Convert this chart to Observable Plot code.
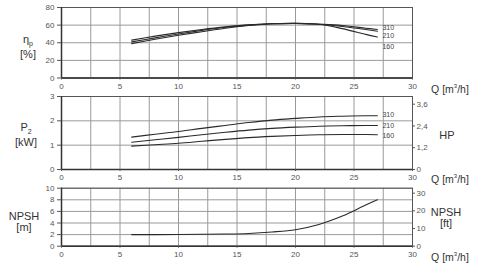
<!DOCTYPE html>
<html>
<head>
<meta charset="utf-8">
<script src="https://cdn.jsdelivr.net/npm/d3@7"></script>
<script src="https://cdn.jsdelivr.net/npm/@observablehq/plot@0.6"></script>
<style>
  html, body { margin: 0; padding: 0; background: #fff; }
  #c { position: relative; width: 480px; height: 271px; font-family: "Liberation Sans", Arial, sans-serif; color: #333; overflow: hidden; }
  #c > .p { position: absolute; left: 0; }
  .lbl { position: absolute; text-align: center; color: #333; line-height: 11px; font-size: 10px; }
</style>
</head>
<body>
<div id="c"></div>
<script>
// ---- data ----
const Q = [6, 8, 10, 12, 14, 16, 18, 20, 22, 24, 26, 27];
const impellers = ["310", "210", "160"];
const eff310 = [43, 47.5, 51.5, 55, 58, 60.3, 61.5, 62, 61, 59.5, 56.5, 55];
const eff210 = [41, 45.5, 50, 54, 57.5, 60, 61.5, 62, 61, 58.5, 55, 53];
const eff160 = [39, 44, 48.5, 52.5, 56.5, 59.5, 61.5, 61.8, 61, 56, 49.5, 46.5];
const p310 = [1.33, 1.45, 1.56, 1.69, 1.81, 1.93, 2.03, 2.1, 2.16, 2.19, 2.21, 2.21];
const p210 = [1.12, 1.22, 1.32, 1.43, 1.53, 1.62, 1.69, 1.74, 1.78, 1.8, 1.81, 1.81];
const p160 = [0.96, 1.02, 1.08, 1.16, 1.24, 1.31, 1.36, 1.4, 1.43, 1.44, 1.44, 1.43];
const npshM = [2.0, 2.0, 2.02, 2.05, 2.1, 2.2, 2.45, 2.85, 3.75, 5.2, 7.1, 8.0];
const xTicks = [0, 5, 10, 15, 20, 25, 30];
const xGrid = [0, 2.5, 5, 7.5, 10, 12.5, 15, 17.5, 20, 22.5, 25, 27.5, 30];
const effTicks = [0, 20, 40, 60, 80];
const pTicks = [0, 1, 2, 3];
const hpTicks = [0, 1.2, 2.4, 3.6];
const npshTicks = [0, 2, 4, 6, 8, 10];
const ftTicks = [0, 10, 20, 30];
const KW_TO_HP = 1.341;
const M_TO_FT = 3.281;

const toRows = (series, names) => series.flatMap((vals, k) => Q.map((q, i) => ({q, v: vals[i], imp: names[k]})));
const effRows = toRows([eff310, eff210, eff160], impellers);
const pRows = toRows([p310, p210, p160], impellers);
const npshRows = toRows([npshM], ["npsh"]);

const C = document.getElementById("c");
const fmtComma = v => String(Math.round(v * 10) / 10).replace(".", ",");
const GRID = "#9a9a9a";
const AX = "#555";

function panel(opts) {
  const marks = [
    Plot.gridX(xGrid, {stroke: GRID, strokeOpacity: 1, strokeWidth: 1}),
    Plot.gridY(opts.yTicks, {stroke: GRID, strokeOpacity: 1, strokeWidth: 1}),
    Plot.frame({stroke: AX, strokeWidth: 1}),
    Plot.ruleX([0], {stroke: "#333", strokeWidth: 1.5}),
    Plot.ruleY([opts.yDomain[0]], {stroke: "#333", strokeWidth: 1.5}),
    Plot.axisX(xTicks, {anchor: "bottom", tickSize: 2, tickPadding: 3, fontSize: 8, label: null, stroke: AX, fill: AX}),
    Plot.axisY(opts.yTicks, {anchor: "left", tickSize: 4, tickPadding: 3, fontSize: 8, label: null, stroke: AX, fill: AX}),
    Plot.line(opts.rows, {x: "q", y: "v", z: "imp", curve: "catmull-rom", stroke: "#2a2a2a", strokeWidth: 1.1})
  ];
  if (opts.labelDy) {
    const last = opts.rows.filter(d => d.q === Q[Q.length - 1]);
    last.forEach((d, i) => marks.push(
      Plot.text([d], {x: "q", y: "v", text: "imp", dx: 5, dy: opts.labelDy[i], textAnchor: "start", fontSize: 7, fill: "#444"})
    ));
  }
  if (opts.right) {
    marks.push(Plot.axisY(opts.right.ticks, {anchor: "right", tickSize: 2, tickPadding: 2, fontSize: 8, label: null, tickFormat: opts.right.format, stroke: AX, fill: AX}));
  }
  const s = Plot.plot({
    width: 480, height: opts.height,
    marginLeft: 61, marginRight: 68, marginTop: opts.mt, marginBottom: opts.mb,
    x: {domain: [0, 30]},
    y: {domain: opts.yDomain},
    style: {fontFamily: "'Liberation Sans', Arial, sans-serif", background: "transparent"},
    marks
  });
  s.classList.add("p");
  s.style.top = opts.top + "px";
  C.appendChild(s);
}

panel({top: 0, height: 92, mt: 7, mb: 14.5, rows: effRows, yDomain: [0, 80], yTicks: effTicks, labelDy: [-2, 4, 10]});
panel({top: 92, height: 90, mt: 4, mb: 13, rows: pRows, yDomain: [0, 3], yTicks: pTicks, labelDy: [-1, 0, 1],
  right: {ticks: hpTicks.map(h => h / KW_TO_HP), format: d => fmtComma(d * KW_TO_HP)}});
panel({top: 182, height: 89, mt: 5.7, mb: 25.3, rows: npshRows, yDomain: [0, 10], yTicks: npshTicks,
  right: {ticks: ftTicks.map(f => f / M_TO_FT), format: d => String(Math.round(d * M_TO_FT))}});

// ---- outside labels ----
function lbl(html, left, top, width, size) {
  const d = document.createElement("div");
  d.className = "lbl";
  d.innerHTML = html;
  d.style.left = left + "px";
  d.style.top = top + "px";
  d.style.width = width + "px";
  if (size) d.style.fontSize = size + "px";
  C.appendChild(d);
}
lbl("η<sub style='font-size:7px'>p</sub><br>[%]", 8, 34, 40, 11);
lbl("P<sub style='font-size:7px'>2</sub><br>[kW]", 4, 122, 44, 11);
lbl("NPSH<br>[m]", 2, 211, 44, 11);
lbl("HP", 430, 130, 34, 11);
lbl("NPSH<br>[ft]", 426, 207, 40, 11);
for (const t of [81, 171, 249]) lbl("Q [m<sup style='font-size:6px'>3</sup>/h]", 428, t, 44, 10.5);
</script>
</body>
</html>
